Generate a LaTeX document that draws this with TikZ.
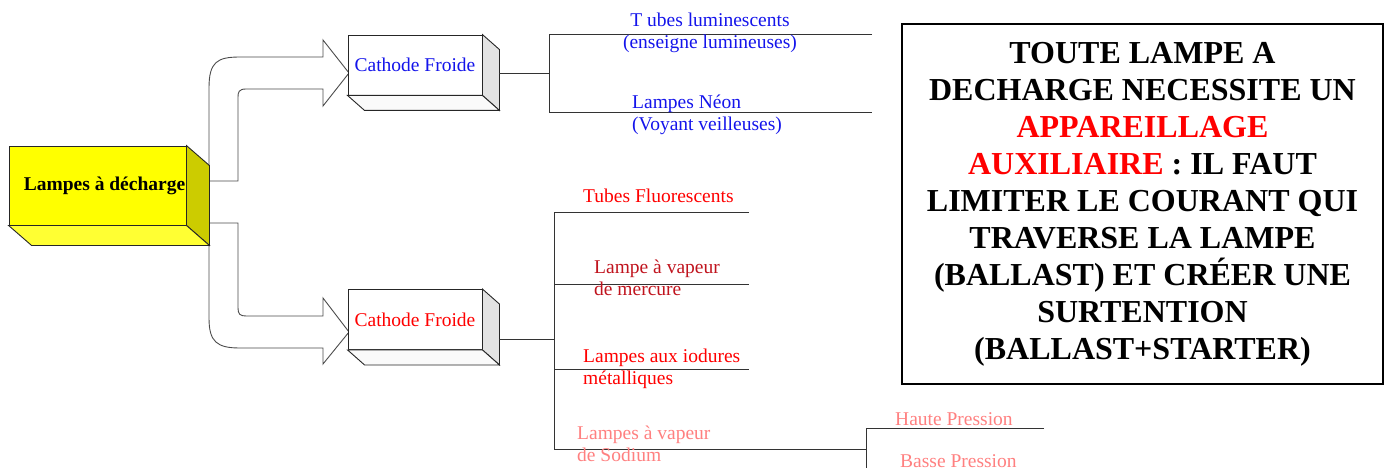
\documentclass[tikz,border=0pt]{standalone}
\usepackage{fontspec}
\setmainfont{Liberation Serif}
\usetikzlibrary{positioning}

\definecolor{lampfront}{RGB}{255,255,0}
\definecolor{lampside}{RGB}{204,204,0}
\definecolor{lampbottom}{RGB}{255,255,51}
\definecolor{boxside}{RGB}{227,227,227}
\definecolor{boxbottom}{RGB}{250,250,250}
\definecolor{coldblue}{RGB}{20,20,235}
\definecolor{mercred}{RGB}{192,20,30}
\definecolor{sodiumpink}{RGB}{255,128,128}

\newcommand\leaffont{\fontsize{19.5}{22}\selectfont}

\tikzset{
  box/.style={draw=black!85, line width=0.9pt, minimum width=134pt,
    minimum height=60pt, inner sep=0pt, font=\leaffont},
  wire/.style={draw=black!80, line width=1pt},
  leaf/.style={font=\leaffont, inner sep=0pt, anchor=base west, align=left},
  blockarrow/.style={draw=black!70, line width=0.9pt, fill=white},
}

\begin{document}
\begin{tikzpicture}[x=1pt,y=-1pt]
  \useasboundingbox (0,0) rectangle (1387,468);

  % Block arrows out of the main box
  \draw[blockarrow] (209,181) -- (209,88) .. controls (209,62) and (217,57) .. (240,57)
        -- (323,57) -- (323,40) -- (349,73) -- (323,106) -- (323,89) -- (246,89)
        .. controls (239,89) and (238,92) .. (238,97) -- (238,181) -- cycle;
  \draw[blockarrow] (209,223) -- (238,223) -- (238,308) .. controls (238,314) and (240,316) .. (246,316)
        -- (323,316) -- (323,298) -- (349,332) -- (323,364) -- (323,348) -- (240,348)
        .. controls (217,348) and (209,342) .. (209,318) -- cycle;

  % Front faces
  \node[box, fill=lampfront, minimum width=177pt, minimum height=79pt] (lamp) at (97.5,185.5) {};
  \node[font=\bfseries\leaffont, inner sep=0pt] (lamplabel) at ([xshift=7pt]lamp.center) {Lampes à décharge};
  \node[box, fill=white, text=coldblue] (cold) at (415,65) {Cathode Froide};
  \node[box, fill=white, text=red] (hot) at (415,319.5) {Cathode Froide};

  % Side and bottom faces
  \foreach \b/\dx/\dy/\sc/\bc in {lamp/23/20/lampside/lampbottom,
      cold/17/15/boxside/boxbottom, hot/17/15/boxside/boxbottom} {
    \draw[draw=black!85, line width=0.9pt, fill=\sc] (\b.north east) -- ++(\dx,\dy)
          -- ([shift={(\dx,\dy)}]\b.south east) -- (\b.south east) -- cycle;
    \draw[draw=black!85, line width=0.9pt, fill=\bc] (\b.south west) -- (\b.south east)
          -- ++(\dx,\dy) -- ([shift={(\dx,\dy)}]\b.south west) -- cycle;
  }

  % Cold cathode branch
  \coordinate (coldout) at (499,74);
  \coordinate (coldfork) at (549,74);
  \coordinate (tubestart) at (549,35);
  \coordinate (tubeend) at (872,35);
  \coordinate (neonstart) at (549,113);
  \coordinate (neonend) at (872,113);
  \draw[wire] (coldout) -- (coldfork);
  \draw[wire] (tubeend) -- (tubestart) -- (neonstart) -- (neonend);
  \node[leaf, text=coldblue, anchor=base, align=center] (tubes) at (710,49)
    {T ubes luminescents\\(enseigne lumineuses)};
  \node[leaf, text=coldblue] (neon) at (632,131) {Lampes Néon\\(Voyant veilleuses)};

  % Hot cathode branch
  \coordinate (hotout) at (499,339);
  \coordinate (hotfork) at (554,339);
  \coordinate (fluostart) at (554,212);
  \coordinate (fluoend) at (749,212);
  \coordinate (mercstart) at (554,284);
  \coordinate (mercend) at (749,284);
  \coordinate (iodstart) at (554,369);
  \coordinate (iodend) at (749,369);
  \coordinate (sodstart) at (554,449);
  \coordinate (sodend) at (866,449);
  \draw[wire] (hotout) -- (hotfork);
  \draw[wire] (fluoend) -- (fluostart) -- (sodstart) -- (sodend);
  \draw[wire] (mercstart) -- (mercend);
  \draw[wire] (iodstart) -- (iodend);
  \node[leaf, text=red] (fluo) at (583,202) {Tubes Fluorescents};
  \node[leaf, text=mercred] (merc) at (594,295) {Lampe à vapeur\\de mercure};
  \node[leaf, text=red] (iod) at (583,384) {Lampes aux iodures\\métalliques};
  \node[leaf, text=sodiumpink] (sod) at (577,461) {Lampes à vapeur\\de Sodium};

  % Sodium pressures
  \coordinate (hautestart) at (866,428);
  \coordinate (hauteend) at (1044,428);
  \coordinate (bassestart) at (866,470);
  \draw[wire] (hauteend) -- (hautestart) -- (bassestart);
  \node[leaf, text=sodiumpink] (haute) at (895,425) {Haute Pression};
  \node[leaf, text=sodiumpink] (basse) at (900,467) {Basse Pression};

  % Note box
  \node[draw, line width=1.6pt, minimum width=481pt, minimum height=360pt, inner sep=0pt,
        align=center, font=\fontsize{32}{37}\selectfont\bfseries] (note) at (1142.5,204)
    {TOUTE LAMPE A\\DECHARGE NECESSITE UN\\\textcolor{red}{APPAREILLAGE}\\
     \textcolor{red}{AUXILIAIRE} : IL FAUT\\LIMITER LE COURANT QUI\\TRAVERSE LA LAMPE\\
     (BALLAST) ET CRÉER UNE\\SURTENTION\\(BALLAST+STARTER)};
\end{tikzpicture}
\end{document}
